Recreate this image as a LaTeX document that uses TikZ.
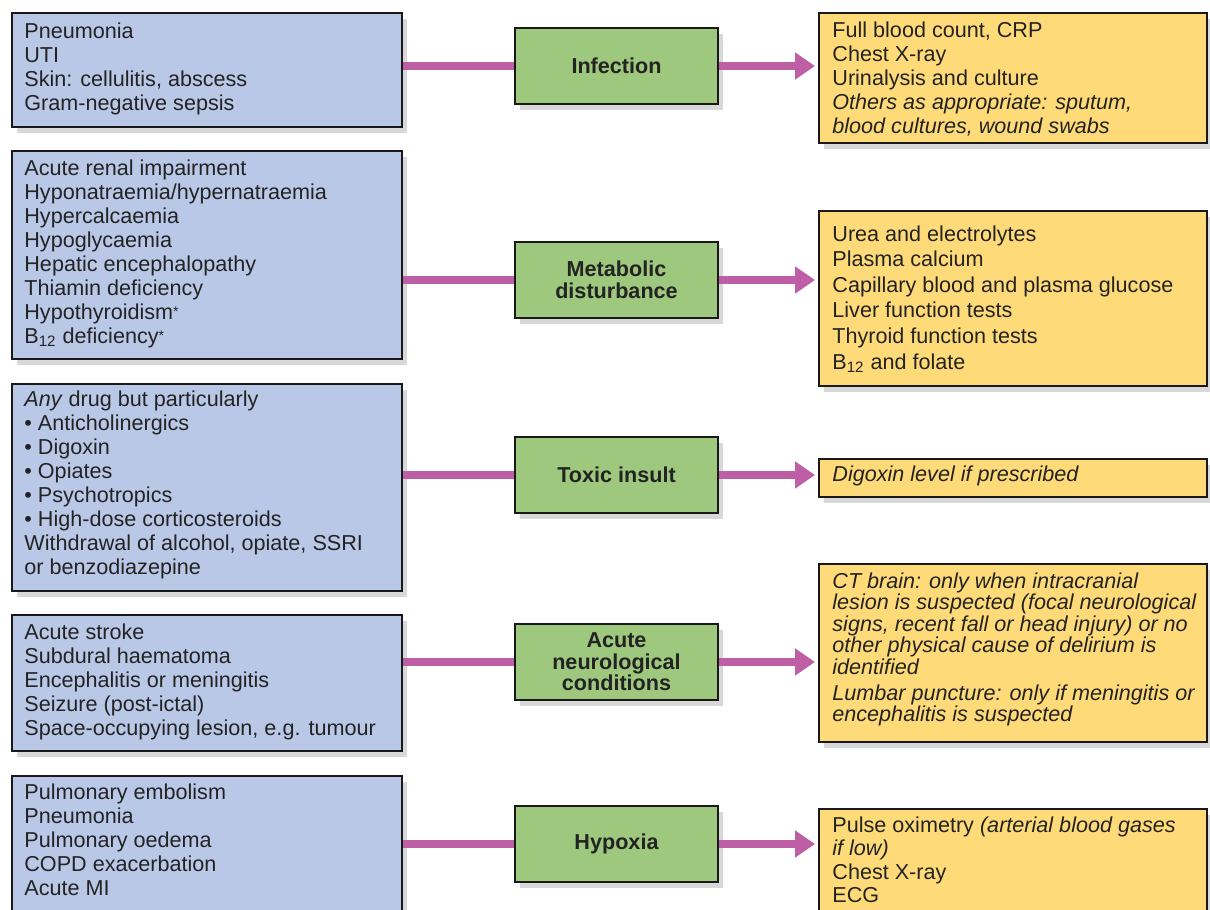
\documentclass[tikz,border=0pt]{standalone}
\usepackage{fontspec}
\setmainfont{Liberation Sans}
\usetikzlibrary{arrows.meta,shadows}
\definecolor{bluefill}{RGB}{185,200,230}
\definecolor{greenfill}{RGB}{158,200,125}
\definecolor{yellowfill}{RGB}{255,218,120}
\definecolor{linkpink}{RGB}{190,95,165}
\definecolor{txtcol}{RGB}{35,35,35}
\newcommand\mkbox[6]{\node[#6, anchor=north west, minimum width={(#4-#2)*0.5pt}, minimum height={(#5-#3)*0.5pt}] (#1) at (#2,#3) {};}
\newcommand\smallast{{\fontsize{7}{7}\selectfont\raisebox{1.5pt}{*}}}
\tikzset{
  boxbase/.style={draw=black!90, line width=0.9pt, inner sep=0pt,
    drop shadow={shadow xshift=2.5pt, shadow yshift=-3pt, fill=black!30, opacity=0.5}},
  bluebox/.style={boxbase, fill=bluefill},
  yellowbox/.style={boxbase, fill=yellowfill},
  greenbox/.style={boxbase, fill=greenfill, minimum width=101.5pt, minimum height=38pt,
    align=center, font=\fontsize{10.8}{10.75}\selectfont\bfseries, text=txtcol},
  txt/.style={anchor=north west, inner sep=0pt, align=left, text=txtcol,
    font=\fontsize{10.8}{12}\selectfont},
  link/.style={line width=4pt, draw=linkpink},
  arrowlink/.style={link, -{Triangle[length=10pt,width=13pt]}, shorten >=1.5pt},
}
\begin{document}
\begin{tikzpicture}[x=0.5pt,y=-0.5pt]
\clip (0,0) rectangle (1210,910);
\fill[white] (0,0) rectangle (1210,910);
% left boxes
\mkbox{l1}{11}{12}{401}{126}{bluebox}
\mkbox{l2}{11}{150}{401}{358}{bluebox}
\mkbox{l3}{11}{383}{401}{590}{bluebox}
\mkbox{l4}{11}{614}{401}{750}{bluebox}
\mkbox{l5}{11}{775}{401}{940}{bluebox}
% right boxes
\mkbox{r1}{818}{12}{1206}{142}{yellowbox}
\mkbox{r2}{818}{210}{1206}{385}{yellowbox}
\mkbox{r3}{818}{458}{1206}{496}{yellowbox}
\mkbox{r4}{818}{563}{1206}{741}{yellowbox}
\mkbox{r5}{818}{808}{1206}{940}{yellowbox}
% middle boxes
\node[greenbox] (g1) at (616.5,66) {Infection};
\node[greenbox] (g2) at (616.5,280) {Metabolic\\disturbance};
\node[greenbox] (g3) at (616.5,475) {Toxic insult};
\node[greenbox] (g4) at (616.5,662) {Acute\\neurological\\conditions};
\node[greenbox] (g5) at (616.5,844) {Hypoxia};
% left texts
\node[txt] (t1) at (24,22) {Pneumonia\\UTI\\Skin: cellulitis, abscess\\Gram-negative sepsis};
\node[txt] (t2) at (24,159) {Acute renal impairment\\Hyponatraemia/hypernatraemia\\Hypercalcaemia\\Hypoglycaemia\\Hepatic encephalopathy\\Thiamin deficiency\\Hypothyroidism\smallast\\B\textsubscript{12} deficiency\smallast};
\node[txt] (t3) at (24,390) {\textit{Any} drug but particularly\\• Anticholinergics\\• Digoxin\\• Opiates\\• Psychotropics\\• High-dose corticosteroids\\Withdrawal of alcohol, opiate, SSRI\\or benzodiazepine};
\node[txt] (t4) at (24,623) {Acute stroke\\Subdural haematoma\\Encephalitis or meningitis\\Seizure (post-ictal)\\Space-occupying lesion, e.g. tumour};
\node[txt] (t5) at (24,783) {Pulmonary embolism\\Pneumonia\\Pulmonary oedema\\COPD exacerbation\\Acute MI};
% right texts
\node[txt] (u1) at (832,21) {Full blood count, CRP\\Chest X-ray\\Urinalysis and culture\\\textit{Others as appropriate: sputum,}\\\textit{blood cultures, wound swabs}};
\node[txt, font=\fontsize{10.8}{12.8}\selectfont] (u2) at (832,225) {Urea and electrolytes\\Plasma calcium\\Capillary blood and plasma glucose\\Liver function tests\\Thyroid function tests\\B\textsubscript{12} and folate};
\node[txt] (u3) at (832,465) {\textit{Digoxin level if prescribed}};
\node[txt, font=\fontsize{10.8}{10.75}\selectfont\itshape] (u4) at (832,572) {CT brain: only when intracranial\\lesion is suspected (focal neurological\\signs, recent fall or head injury) or no\\other physical cause of delirium is\\identified\\[2.4pt]Lumbar puncture: only if meningitis or\\encephalitis is suspected};
\node[txt, font=\fontsize{10.8}{11.75}\selectfont] (u5) at (832,816) {Pulse oximetry \textit{(arterial blood gases}\\\textit{if low)}\\Chest X-ray\\ECG};
% connectors
\foreach \i in {1,...,5} {
  \draw[link] (l\i.east |- g\i.west) -- (g\i.west);
  \draw[arrowlink] (g\i.east) -- (r\i.west |- g\i.east);
}
\end{tikzpicture}
\end{document}
